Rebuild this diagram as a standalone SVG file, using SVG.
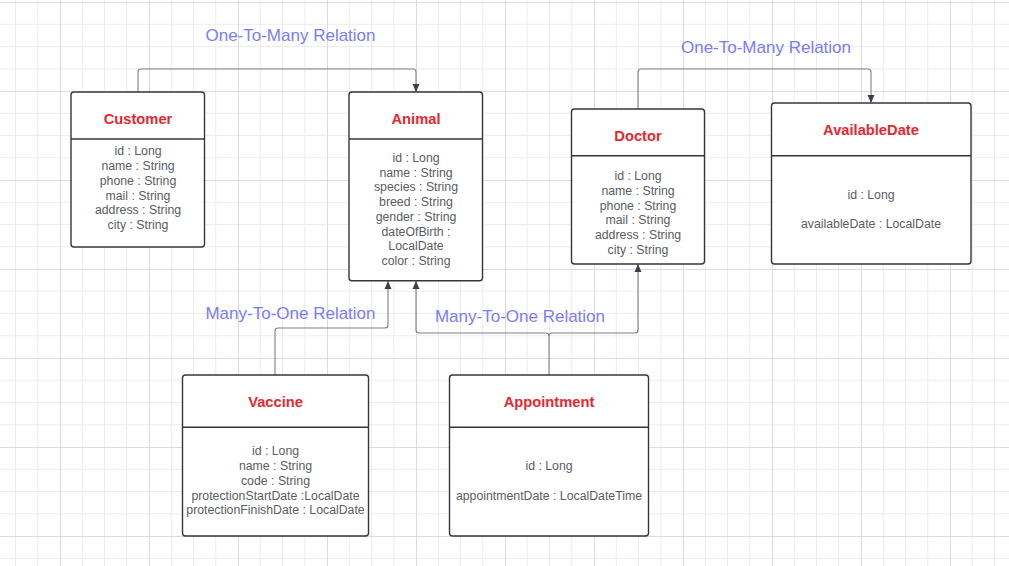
<svg xmlns="http://www.w3.org/2000/svg" width="1009" height="566" viewBox="0 0 1009 566">
<defs>
<pattern id="grid" patternUnits="userSpaceOnUse" x="60" y="2" width="89" height="89">
<path d="M22.25,0V89M44.5,0V89M66.75,0V89M0,22.25H89M0,44.5H89M0,66.75H89" stroke="#ececec" stroke-width="1" fill="none"/>
<path d="M0.5,0V89M0,0.5H89" stroke="#dcdcdc" stroke-width="1" fill="none"/>
</pattern>
<marker id="arr" markerUnits="userSpaceOnUse" markerWidth="8" markerHeight="8" refX="8" refY="4" orient="auto">
<path d="M0,0.5 L8,4 L0,7.5 z" fill="#3b414a"/>
</marker>
<style>
.box{fill:#fff;stroke:#33373d;stroke-width:1.4}
.div{stroke:#33373d;stroke-width:1.4}
.title{font-family:"Liberation Sans",Arial,sans-serif;font-weight:bold;font-size:14.7px;fill:#e8262e;text-anchor:middle}
.attr{font-family:"Liberation Sans",Arial,sans-serif;font-size:12.3px;fill:#5a5d62;text-anchor:middle}
.lbl{font-family:"Liberation Sans",Arial,sans-serif;font-size:17px;fill:#7b7bff;text-anchor:middle}
.con{fill:none;stroke:#7d8085;stroke-width:1.1}
</style>
</defs>
<rect x="0" y="0" width="1009" height="566" fill="#fff"/>
<rect x="0" y="0" width="1009" height="566" fill="url(#grid)"/>

<g id="connectors">
<path class="con" d="M138,92 V72 Q138,69 141,69 H413 Q416,69 416,72 V92" marker-end="url(#arr)"/>
<path class="con" d="M638,109 V72 Q638,69 641,69 H868 Q871,69 871,72 V103" marker-end="url(#arr)"/>
<path class="con" d="M275,375 V331 Q275,328 278,328 H385 Q388,328 388,325 V281" marker-end="url(#arr)"/>
<path class="con" d="M549,375 V336 Q549,333 546,333 H419 Q416,333 416,330 V281" marker-end="url(#arr)"/>
<path class="con" d="M549,336 Q549,333 552,333 H635 Q638,333 638,330 V264" marker-end="url(#arr)"/>
<text class="lbl" x="290.5" y="41">One-To-Many Relation</text>
<text class="lbl" x="766" y="53">One-To-Many Relation</text>
<text class="lbl" x="290.5" y="319">Many-To-One Relation</text>
<text class="lbl" x="520" y="322">Many-To-One Relation</text>
</g>

<g id="customer">
<rect class="box" x="71" y="92" width="133.5" height="155" rx="3"/>
<line class="div" x1="71" y1="139" x2="204.5" y2="139"/>
<text class="title" x="138" y="123.5">Customer</text>
<text class="attr" x="138" y="155.3">id : Long</text>
<text class="attr" x="138" y="170">name : String</text>
<text class="attr" x="138" y="184.8">phone : String</text>
<text class="attr" x="138" y="199.5">mail : String</text>
<text class="attr" x="138" y="214.3">address : String</text>
<text class="attr" x="138" y="229">city : String</text>
</g>

<g id="animal">
<rect class="box" x="349" y="92" width="133.5" height="188.7" rx="3"/>
<line class="div" x1="349" y1="139" x2="482.5" y2="139"/>
<text class="title" x="416" y="123.5">Animal</text>
<text class="attr" x="416" y="161.8">id : Long</text>
<text class="attr" x="416" y="176.5">name : String</text>
<text class="attr" x="416" y="191.3">species : String</text>
<text class="attr" x="416" y="206">breed : String</text>
<text class="attr" x="416" y="220.8">gender : String</text>
<text class="attr" x="416" y="235.5">dateOfBirth :</text>
<text class="attr" x="416" y="250.3">LocalDate</text>
<text class="attr" x="416" y="265">color : String</text>
</g>

<g id="doctor">
<rect class="box" x="571.5" y="109" width="133" height="155" rx="3"/>
<line class="div" x1="571.5" y1="155.7" x2="704.5" y2="155.7"/>
<text class="title" x="638" y="140.5">Doctor</text>
<text class="attr" x="638" y="180">id : Long</text>
<text class="attr" x="638" y="194.7">name : String</text>
<text class="attr" x="638" y="209.5">phone : String</text>
<text class="attr" x="638" y="224.2">mail : String</text>
<text class="attr" x="638" y="239">address : String</text>
<text class="attr" x="638" y="253.7">city : String</text>
</g>

<g id="availabledate">
<rect class="box" x="771.5" y="103" width="199.5" height="161" rx="3"/>
<line class="div" x1="771.5" y1="155.7" x2="971" y2="155.7"/>
<text class="title" x="871" y="135">AvailableDate</text>
<text class="attr" x="871" y="198.5">id : Long</text>
<text class="attr" x="871" y="227.7">availableDate : LocalDate</text>
</g>

<g id="vaccine">
<rect class="box" x="182.5" y="375" width="186" height="161" rx="3"/>
<line class="div" x1="182.5" y1="427.3" x2="368.5" y2="427.3"/>
<text class="title" x="275.5" y="406.5">Vaccine</text>
<text class="attr" x="275.5" y="455.3">id : Long</text>
<text class="attr" x="275.5" y="470">name : String</text>
<text class="attr" x="275.5" y="484.8">code : String</text>
<text class="attr" x="275.5" y="499.5">protectionStartDate :LocalDate</text>
<text class="attr" x="275.5" y="514.3">protectionFinishDate : LocalDate</text>
</g>

<g id="appointment">
<rect class="box" x="449.5" y="375" width="199" height="161" rx="3"/>
<line class="div" x1="449.5" y1="427.3" x2="648.5" y2="427.3"/>
<text class="title" x="549" y="406.5">Appointment</text>
<text class="attr" x="549" y="470.3">id : Long</text>
<text class="attr" x="549" y="499.5">appointmentDate : LocalDateTime</text>
</g>
</svg>
